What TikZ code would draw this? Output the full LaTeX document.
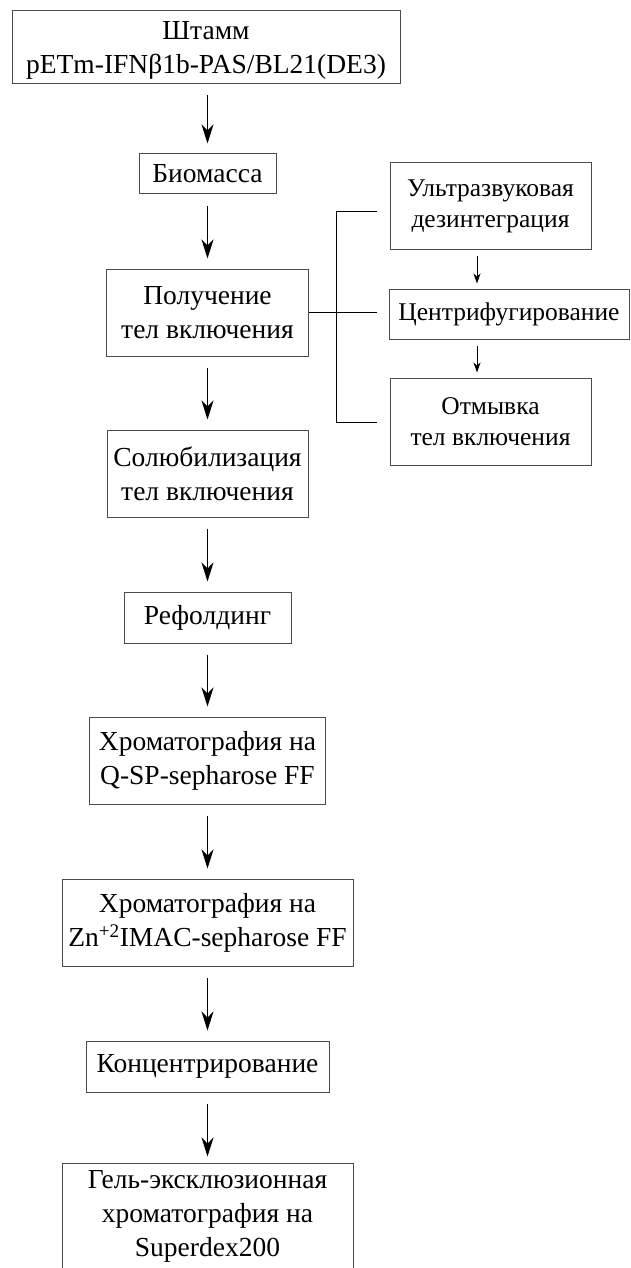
\documentclass[tikz,border=0pt]{standalone}
\usepackage{fontspec}
\setmainfont{Liberation Serif}
\usetikzlibrary{arrows.meta}

\tikzset{
  stage/.style={draw=black!70, line width=1pt, align=center, inner sep=0pt,
    font=\fontsize{27.5}{34}\selectfont},
  substage/.style={stage, font=\fontsize{25.5}{31}\selectfont},
  flow/.style={line width=1.2pt, -{Stealth[length=19pt,width=12pt,inset=6pt]},
    shorten <=11pt, shorten >=10pt},
  subflow/.style={line width=1pt, -{Stealth[length=10pt,width=7pt,inset=3pt]},
    shorten <=6pt, shorten >=5pt}
}

\begin{document}
\begin{tikzpicture}[x=1pt,y=-1pt]
			\useasboundingbox (0,0) rectangle (630,1268);
			\clip (0,0) rectangle (630,1268);
			\node[stage, minimum width=388pt, minimum height=73pt, text depth=0pt] (strain) at (206,47.5)
			{Штамм\\pETm-IFNβ1b-PAS/BL21(DE3)};
			\node[stage, minimum width=137pt, minimum height=40pt] (biomass) at (207.5,174) {Биомасса};
			\node[stage, minimum width=202pt, minimum height=87pt] (incl) at (207.5,312.5)
			{Получение\\тел включения};
			\node[stage, minimum width=201pt, minimum height=87pt] (solub) at (207.5,473.5)
			{Солюбилизация\\тел включения};
			\node[stage, minimum width=167pt, minimum height=51pt] (refold) at (207.5,617.5) {Рефолдинг};
			\node[stage, minimum width=236pt, minimum height=87pt] (qsp) at (207.5,760.5)
			{Хроматография на\\Q-SP-sepharose FF};
			\node[stage, minimum width=291pt, minimum height=87pt] (zn) at (207.5,922.5)
			{Хроматография на\\Zn\textsuperscript{+2}IMAC-sepharose FF};
			\node[stage, minimum width=243pt, minimum height=51pt] (conc) at (207.5,1066.5) {Концентрирование};
			\node[stage, minimum width=291pt, minimum height=107pt] (gel) at (207.5,1216.5)
			{Гель-эксклюзионная\\хроматография на\\Superdex200};
			\node[substage, minimum width=201pt, minimum height=86pt] (ultra) at (490.5,206)
			{Ультразвуковая\\дезинтеграция};
			\node[substage, minimum width=240pt, minimum height=50pt] (centr) at (509,314) {Центрифугирование};
			\node[substage, minimum width=201pt, minimum height=87pt] (wash) at (490.5,421.5)
			{Отмывка\\тел включения};
			\draw[flow] (strain.south -| biomass) -- (biomass);
			\draw[flow] (biomass) -- (incl);
			\draw[flow] (incl) -- (solub);
			\draw[flow] (solub) -- (refold);
			\draw[flow] (refold) -- (qsp);
			\draw[flow] (qsp) -- (zn);
			\draw[flow] (zn) -- (conc);
			\draw[flow, shorten >=6pt] (conc) -- (gel);
			\coordinate (sub) at (477,0);
			\draw[subflow] (ultra.south -| sub) -- (centr.north -| sub);
			\draw[subflow] (centr.south -| sub) -- (wash.north -| sub);
			\coordinate (ktop) at (377,211);
			\coordinate (kmid) at (377,312.5);
			\coordinate (kbot) at (377,422);
			\draw[line width=1pt] (ktop) -- ++(-41,0) |- (kbot);
			\draw[line width=1pt] (incl.east) -- (kmid);
\end{tikzpicture}
\end{document}
